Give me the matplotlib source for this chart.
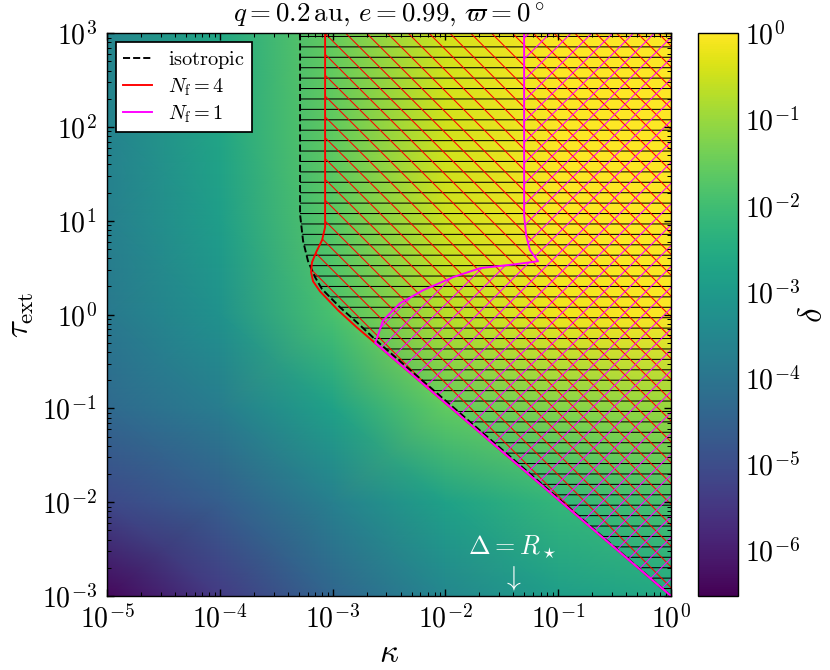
import numpy as np
import matplotlib
matplotlib.use('Agg')
import matplotlib.pyplot as plt
from matplotlib.colors import LogNorm

plt.rcParams['font.family'] = 'serif'
plt.rcParams['font.serif'] = ['cmr10']
plt.rcParams['mathtext.fontset'] = 'cm'
plt.rcParams['axes.formatter.use_mathtext'] = True
plt.rcParams['hatch.linewidth'] = 0.6

# grid nodes of the background map
kappa_nodes = [1e-5, 1e-4, 1e-3, 1e-2, 1e-1, 1e0]
tau_nodes = [1e-3, 1e-2, 1e-1, 1e0, 1e1, 1e2, 1e3]
# log10(delta), rows = tau, cols = kappa
log_delta = [
    [-6.4, -5.4, -4.4, -3.5, -2.9, -2.6],
    [-5.1, -4.6, -3.7, -2.8, -2.2, -1.9],
    [-4.3, -3.8, -2.8, -1.6, -1.2, -1.0],
    [-3.9, -3.2, -1.9, -0.7, -0.15, 0.0],
    [-3.7, -2.9, -1.7, -0.5, 0.0, 0.0],
    [-3.6, -2.7, -1.6, -0.45, 0.0, 0.0],
    [-3.55, -2.65, -1.55, -0.45, 0.0, 0.0],
]

# boundaries of the regions
iso_kappa = [5.14e-4, 5.14e-4, 5.47e-4, 6.05e-4, 6.98e-4, 8.05e-4, 1.16e-3, 1.75e-3, 2.52e-3, 1.0]
iso_tau = [1e3, 11.7, 6.07, 3.71, 2.51, 1.87, 1.20, 0.77, 0.51, 1e-3]

nf4_kappa = [8.57e-4, 8.57e-4, 8.05e-4, 7.13e-4, 6.56e-4, 6.44e-4, 6.70e-4, 7.73e-4, 1.12e-3, 1.64e-3, 2.63e-3, 1.0]
nf4_tau = [1e3, 8.55, 6.21, 4.62, 3.62, 2.83, 2.27, 1.77, 1.11, 0.73, 0.45, 1e-3]

nf1_kappa = [0.0498, 0.0498, 0.0519, 0.0562, 0.0662, 0.0414, 0.0203, 0.0117, 6.33e-3, 3.95e-3, 2.80e-3, 2.48e-3, 2.38e-3, 1.0]
nf1_tau = [1e3, 11.5, 7.01, 4.86, 3.71, 3.44, 3.13, 2.51, 1.82, 1.32, 0.87, 0.57, 0.50, 1e-3]

kappa_star = 0.039


fig = plt.figure(figsize=(6.64, 5.36), dpi=125)
ax = fig.add_axes([0.129, 0.1104, 0.6795, 0.840])
cax = fig.add_axes([0.841, 0.1104, 0.048, 0.840])

norm = LogNorm(vmin=10**-6.53, vmax=1.0)
K, T = np.meshgrid(kappa_nodes, tau_nodes)
mesh = ax.pcolormesh(K, T, 10**np.array(log_delta), shading='gouraud', cmap='viridis', norm=norm,
                     rasterized=True)

# hatched regions
ax.fill(iso_kappa + [1.0], iso_tau + [1e3], facecolor='none', edgecolor='black', lw=0, hatch='--')
ax.fill(nf4_kappa + [1.0], nf4_tau + [1e3], facecolor='none', edgecolor='red', lw=0, hatch='\\\\')
ax.fill(nf1_kappa + [1.0], nf1_tau + [1e3], facecolor='none', edgecolor='magenta', lw=0, hatch='//')

ax.plot(iso_kappa, iso_tau, color='black', ls='--', lw=1.1, label=r'$\mathrm{isotropic}$')
ax.plot(nf4_kappa, nf4_tau, color='red', lw=1.1, label=r'$N_\mathrm{f} = 4$')
ax.plot(nf1_kappa, nf1_tau, color='magenta', lw=1.1, label=r'$N_\mathrm{f} = 1$')

ax.text(kappa_star, 3.3e-3, r'$\Delta = R_\star$', color='white', fontsize=15, ha='center', va='center')
ax.text(kappa_star, 1.55e-3, r'$\downarrow$', color='white', fontsize=16, ha='center', va='center')

ax.set_xscale('log')
ax.set_yscale('log')
ax.set_xlim(1e-5, 1)
ax.set_ylim(1e-3, 1e3)
ax.tick_params(which='both', direction='in', top=True, right=True, labelsize=16)
ax.tick_params(which='major', length=4)
ax.tick_params(which='minor', length=2.2)
ax.tick_params(axis='y', pad=6)
ax.tick_params(axis='x', pad=5)
ax.set_xlabel(r'$\kappa$', fontsize=19)
ax.xaxis.set_label_coords(0.5, -0.102)
ax.xaxis.label.set_va('center')
ax.set_ylabel(r'$\tau_\mathrm{ext}$', fontsize=19)
ax.yaxis.set_label_coords(-0.151, 0.5)
ax.yaxis.label.set_va('center')
ax.text(0.5, 1.034, r'$q=0.2\,\mathrm{au},\, e=0.99,\, \varpi=0^\circ$', fontsize=15.5,
        ha='center', va='center', transform=ax.transAxes)

ax.legend(loc='upper left', fancybox=False, edgecolor='black', framealpha=1, fontsize=11.7,
          borderaxespad=0.45, labelspacing=0.25, borderpad=0.35, handlelength=1.4,
          handletextpad=0.8)

cb = fig.colorbar(mesh, cax=cax)
cb.ax.tick_params(which='both', length=0, labelsize=16, pad=4)
cb.set_label(r'$\delta$', fontsize=19)
cb.ax.yaxis.set_label_coords(2.9, 0.5)
cb.ax.yaxis.label.set_va('center')

fig.savefig('out.png', dpi=125)
